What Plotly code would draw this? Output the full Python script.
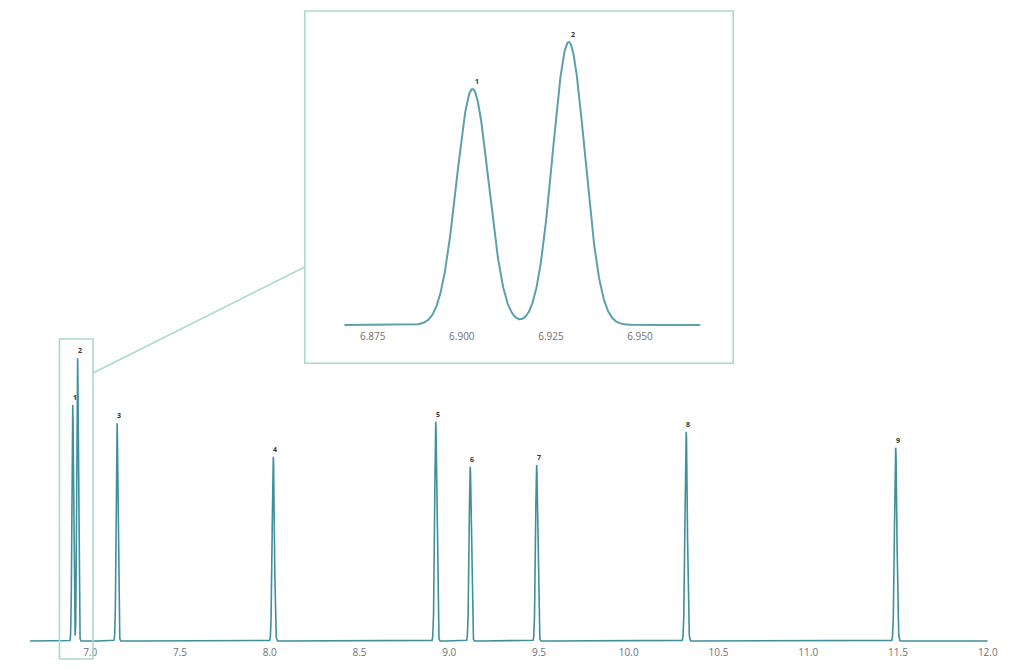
import numpy as np
import plotly.graph_objects as go

# ---- data ----
peak_labels = ["1", "2", "3", "4", "5", "6", "7", "8", "9"]
retention_times = [6.903, 6.930, 7.150, 8.020, 8.925, 9.117, 9.487, 10.320, 11.487]
peak_heights = [83.4, 100.0, 77.0, 65.1, 77.5, 61.6, 62.2, 74.0, 68.3]
peak_sigmas = [0.0045, 0.0045, 0.005, 0.006, 0.006, 0.006, 0.006, 0.0065, 0.0065]

main_ticks = [7.0, 7.5, 8.0, 8.5, 9.0, 9.5, 10.0, 10.5, 11.0, 11.5, 12.0]
inset_ticks = [6.875, 6.900, 6.925, 6.950]

main_range = [6.665, 12.0]
inset_range = [6.867, 6.967]
zoom_box = [6.829, 7.016]


def signal(t):
    y = np.zeros_like(t)
    for rt, h, s in zip(retention_times, peak_heights, peak_sigmas):
        y += h * np.exp(-0.5 * ((t - rt) / s) ** 2)
    return y


t_main = np.arange(main_range[0], main_range[1] + 1e-9, 0.0004)
t_inset = np.arange(inset_range[0], inset_range[1] + 1e-9, 0.0001)

# horizontal compensation for the capture (~1 %)
SX = 1.0105
W, H = 1040, 669


def px(xs):
    return xs * SX / W


def py(ys):
    return (H - ys) / H


main_dom_x = [px(30), px(987)]
main_dom_y = [py(645), 1.0]
inset_dom_x = [px(344), px(700)]
inset_dom_y = [py(329), py(20)]

px_per_unit = 2.83
main_yrange = [-1.41, 645 / px_per_unit - 1.41]
inset_yrange = [-1.41, 309 / px_per_unit - 1.41]

line_col = "#3f8f9c"
box_col = "#a9dcc8"

fig = go.Figure()
fig.add_trace(go.Scatter(x=t_main, y=signal(t_main), mode="lines",
                         line=dict(color=line_col, width=1.6),
                         xaxis="x", yaxis="y", showlegend=False, hoverinfo="skip"))
fig.add_trace(go.Scatter(x=t_inset, y=signal(t_inset), mode="lines",
                         line=dict(color="#5c9fad", width=2),
                         xaxis="x2", yaxis="y2", showlegend=False, hoverinfo="skip"))

annotations = []
for lab, rt, h in zip(peak_labels, retention_times, peak_heights):
    annotations.append(dict(x=rt, y=h, xref="x", yref="y", text="<b>" + lab + "</b>",
                            showarrow=False, xanchor="center", yanchor="bottom",
                            xshift=2, yshift=1, font=dict(size=7, color="#333")))
    if inset_range[0] < rt < inset_range[1]:
        annotations.append(dict(x=rt, y=h, xref="x2", yref="y2", text="<b>" + lab + "</b>",
                                showarrow=False, xanchor="center", yanchor="bottom",
                                xshift=4, yshift=1, font=dict(size=7, color="#333")))


def main_x_to_paper(v):
    f = (v - main_range[0]) / (main_range[1] - main_range[0])
    return main_dom_x[0] + f * (main_dom_x[1] - main_dom_x[0])


bx0, bx1 = main_x_to_paper(zoom_box[0]), main_x_to_paper(zoom_box[1])
by0, by1 = py(659), py(339)
ix0, ix1 = px(304.5), px(732.7)
iy0, iy1 = py(363.3), py(11)

shapes = [
    dict(type="rect", xref="paper", yref="paper", x0=bx0, x1=bx1, y0=by0, y1=by1,
         line=dict(color=box_col, width=1.6)),
    dict(type="rect", xref="paper", yref="paper", x0=ix0, x1=ix1, y0=iy0, y1=iy1,
         line=dict(color=box_col, width=1.6)),
    dict(type="line", xref="paper", yref="paper", x0=bx1, y0=py(373),
         x1=ix0, y1=py(267), line=dict(color=box_col, width=1.6)),
]

tickfont = dict(family="Open Sans, sans-serif", size=10, color="#707070")

fig.update_layout(
    width=W, height=H,
    margin=dict(l=0, r=0, t=0, b=0),
    paper_bgcolor="white", plot_bgcolor="white",
    showlegend=False,
    xaxis=dict(domain=main_dom_x, range=main_range, tickvals=main_ticks,
               ticktext=[f"{v:.1f}" for v in main_ticks], showgrid=False,
               zeroline=False, showline=False, ticks="", tickfont=tickfont,
               anchor="y", fixedrange=True),
    yaxis=dict(domain=main_dom_y, range=main_yrange, visible=False, anchor="x"),
    xaxis2=dict(domain=inset_dom_x, range=inset_range, tickvals=inset_ticks,
                ticktext=[f"{v:.3f}" for v in inset_ticks], showgrid=False,
                zeroline=False, showline=False, ticks="", tickfont=tickfont,
                anchor="y2"),
    yaxis2=dict(domain=inset_dom_y, range=inset_yrange, visible=False, anchor="x2"),
    annotations=annotations,
    shapes=shapes,
)

fig.write_html("out.html", config={"responsive": False, "displayModeBar": False},
               post_script="document.body.style.margin='0';document.body.style.overflow='hidden';")
